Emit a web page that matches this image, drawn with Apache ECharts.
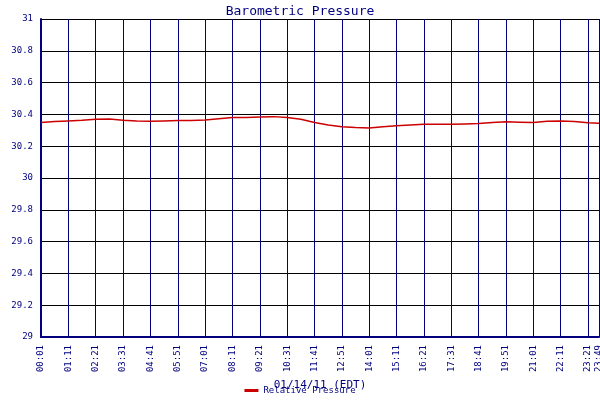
<!DOCTYPE html>
<html><head><meta charset="utf-8">
<script src="https://cdn.jsdelivr.net/npm/echarts@6/dist/echarts.min.js"></script>
<style>html,body{margin:0;padding:0;background:#fff}#main{width:600px;height:400px}</style>
</head><body><div id="main"></div>
<script>
// minutes after 00:01
var minutes = [0,35,70,105,140,175,210,245,280,315,350,385,420,455,490,525,560,595,630,665,700,735,770,805,840,875,910,945,980,1015,1050,1085,1120,1155,1190,1225,1260,1295,1330,1365,1400,1428];
var pressure = [30.349,30.355,30.359,30.363,30.369,30.371,30.363,30.359,30.357,30.359,30.361,30.361,30.365,30.373,30.381,30.381,30.384,30.386,30.381,30.369,30.349,30.334,30.322,30.318,30.315,30.322,30.328,30.334,30.338,30.338,30.338,30.340,30.342,30.349,30.353,30.351,30.349,30.357,30.359,30.355,30.347,30.345];
var yTicks = [29, 29.2, 29.4, 29.6, 29.8, 30, 30.2, 30.4, 30.6, 30.8, 31];

var navy = '#000080';
var font = 'DejaVu Sans Mono';
function fmt(v) {
    var t = v + 1, h = Math.floor(t / 60), m = t % 60;
    return (h < 10 ? '0' : '') + h + ':' + (m < 10 ? '0' : '') + m;
}
var myChart = echarts.init(document.getElementById('main'));
myChart.setOption({
    backgroundColor: '#fff',
    animation: false,
    title: { text: 'Barometric Pressure', left: 'center', top: 0,
        textStyle: { color: navy, fontFamily: font, fontSize: 13, fontWeight: 'normal' } },
    legend: { bottom: 0, left: 'center', itemWidth: 14, itemHeight: 3, icon: 'rect',
        textStyle: { color: navy, fontFamily: font, fontSize: 9 },
        data: ['Relative Pressure'] },
    grid: { left: 41, right: 1, top: 19, bottom: 63, containLabel: false, outerBoundsMode: 'none' },
    xAxis: {
        type: 'value', min: 0, max: 1428, interval: 70,
        name: '01/14/11 (EDT)', nameLocation: 'middle', nameGap: 42,
        nameTextStyle: { color: navy, fontFamily: font, fontSize: 11 },
        axisLine: { lineStyle: { color: navy, width: 2 } },
        axisTick: { show: false },
        axisLabel: { rotate: 90, color: navy, fontFamily: font, fontSize: 9, showMaxLabel: true, formatter: fmt },
        splitLine: { show: true, lineStyle: { color: navy, width: 1 } }
    },
    yAxis: {
        type: 'value', min: yTicks[0], max: yTicks[yTicks.length - 1], interval: 0.2,
        name: 'IN Hg', nameLocation: 'middle', nameGap: 30,
        nameTextStyle: { color: navy, fontFamily: font, fontSize: 10 },
        axisLine: { show: true, lineStyle: { color: navy, width: 2 } },
        axisTick: { show: false },
        axisLabel: { color: navy, fontFamily: font, fontSize: 9, formatter: function (v) { return +v.toFixed(1) + ''; } },
        splitLine: { show: true, lineStyle: { color: '#000', width: 1 } }
    },
    series: [{
        name: 'Relative Pressure', type: 'line', symbol: 'none',
        color: '#cc0000', lineStyle: { width: 1.5, color: '#cc0000' },
        data: minutes.map(function (m, i) { return [m, pressure[i]]; })
    }]
});
</script></body></html>
